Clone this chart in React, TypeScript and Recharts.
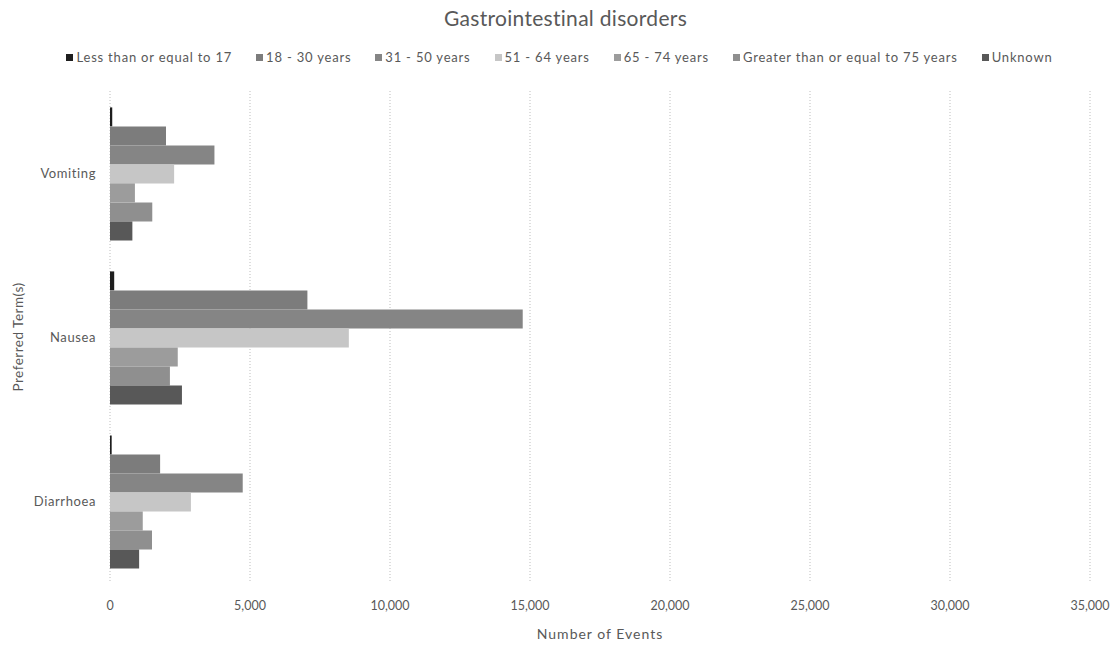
import React from "react";
import {
  BarChart,
  Bar,
  XAxis,
  YAxis,
  CartesianGrid,
} from "recharts";

const categories = ["Vomiting", "Nausea", "Diarrhoea"];

const seriesNames = [
  "Less than or equal to 17",
  "18 - 30 years",
  "31 - 50 years",
  "51 - 64 years",
  "65 - 74 years",
  "Greater than or equal to 75 years",
  "Unknown",
];

// values per category, in category order
const le17 = [80, 150, 60];
const y18to30 = [2000, 7050, 1790];
const y31to50 = [3730, 14740, 4740];
const y51to64 = [2290, 8530, 2890];
const y65to74 = [890, 2420, 1170];
const ge75 = [1510, 2140, 1500];
const unknown = [800, 2570, 1040];

const xTicks = [0, 5000, 10000, 15000, 20000, 25000, 30000, 35000];

const seriesValues = [le17, y18to30, y31to50, y51to64, y65to74, ge75, unknown];
const colors = ["#1e1e1e", "#7c7c7c", "#858585", "#c6c6c6", "#9c9c9c", "#8f8f8f", "#585858"];

const data = categories.map((name, i) => {
  const row: Record<string, string | number> = { name };
  seriesNames.forEach((s, j) => {
    row[s] = seriesValues[j][i];
  });
  return row;
});

const FONT = "Lato, 'Open Sans', sans-serif";
const TEXT = "#595959";

export default function App() {
  return (
    <div style={{ position: "relative", width: 1119, height: 645, fontFamily: FONT }}>
      <style>{`body{margin:0}`}</style>
      <div
        style={{
          position: "absolute",
          top: 5,
          left: 0,
          width: 1119,
          textAlign: "center",
          fontSize: 21,
          letterSpacing: 0.3,
          color: TEXT,
          paddingLeft: 12,
          boxSizing: "border-box",
        }}
      >
        Gastrointestinal disorders
      </div>
      <div
        style={{
          position: "absolute",
          top: 49,
          left: 0,
          width: 1119,
          display: "flex",
          justifyContent: "center",
          gap: 24,
          fontSize: 13,
          letterSpacing: 0.8,
          color: TEXT,
          boxSizing: "border-box",
        }}
      >
        {seriesNames.map((s, i) => (
          <div key={s} style={{ display: "flex", alignItems: "center" }}>
            <span
              style={{
                display: "inline-block",
                width: 7,
                height: 7,
                background: colors[i],
                marginRight: 3,
              }}
            />
            {s}
          </div>
        ))}
      </div>
      <BarChart
        width={1119}
        height={645}
        data={data}
        layout="vertical"
        margin={{ top: 91, right: 29, bottom: 0, left: 0 }}
        barCategoryGap="10%"
        barGap={0}
      >
        <CartesianGrid
          horizontal={false}
          stroke="#bdbdbd"
          strokeDasharray="1 2"
        />
        <XAxis
          type="number"
          domain={[0, 35000]}
          ticks={xTicks}
          tickFormatter={(v: number) => v.toLocaleString("en-US")}
          axisLine={false}
          tickLine={false}
          tickMargin={12}
          height={62}
          tick={{ fill: TEXT, fontSize: 12.5, fontFamily: FONT }}
          label={{
            value: "Number of Events",
            position: "insideBottom",
            offset: 6,
            fill: TEXT,
            fontSize: 14,
            fontFamily: FONT,
            style: { letterSpacing: 1 },
          }}
        />
        <YAxis
          type="category"
          dataKey="name"
          width={110}
          axisLine={false}
          tickLine={false}
          tickMargin={8}
          tick={{ fill: TEXT, fontSize: 13, fontFamily: FONT, letterSpacing: 0.6 }}
          label={{
            value: "Preferred Term(s)",
            angle: -90,
            position: "insideLeft",
            offset: 18,
            fill: TEXT,
            fontSize: 13.5,
            fontFamily: FONT,
            style: { textAnchor: "middle", letterSpacing: 0.5 },
          }}
        />
        {seriesNames.map((s, i) => (
          <Bar key={s} dataKey={s} fill={colors[i]} isAnimationActive={false} />
        ))}
      </BarChart>
    </div>
  );
}
